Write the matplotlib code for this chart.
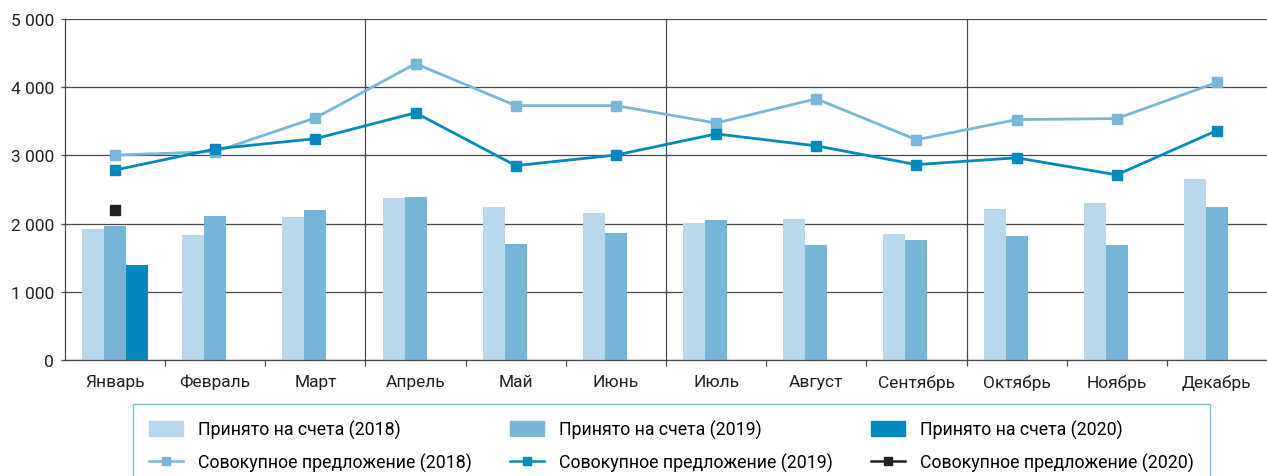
import matplotlib.pyplot as plt
import matplotlib.ticker as mticker
from matplotlib.patches import Patch
from matplotlib.lines import Line2D
import numpy as np

meses = ["Январь", "Февраль", "Март", "Апрель", "Май", "Июнь",
         "Июль", "Август", "Сентябрь", "Октябрь", "Ноябрь", "Декабрь"]

accepted_2018 = [1920, 1830, 2095, 2375, 2245, 2155, 2005, 2065, 1845, 2215, 2300, 2655]
accepted_2019 = [1965, 2110, 2200, 2390, 1700, 1860, 2050, 1685, 1760, 1815, 1685, 2245]
accepted_2020 = [1390]

offer_2018 = [3005, 3055, 3550, 4345, 3730, 3730, 3475, 3830, 3230, 3525, 3540, 4070]
offer_2019 = [2785, 3095, 3245, 3625, 2850, 3005, 3315, 3140, 2865, 2965, 2715, 3365]
offer_2020 = [2205]

c_2018_bar = "#b8d7ea"
c_2019_bar = "#78b4d6"
c_2020_bar = "#0089bc"
c_2018_line = "#7ab6d8"
c_2019_line = "#0089bd"
c_2020_line = "#222222"
grid_c = "#4a4a4a"

plt.rcParams['font.family'] = ['Roboto', 'DejaVu Sans']

fig = plt.figure(figsize=(12.67, 4.77), dpi=100)
ax = fig.add_axes([65 / 1267, 1 - 361 / 477, 1 - 65 / 1267, (361 - 20) / 477])

x = np.arange(len(meses))
w = 0.22
ax.bar(x - w, accepted_2018, w, color=c_2018_bar, zorder=2)
ax.bar(x, accepted_2019, w, color=c_2019_bar, zorder=2)
ax.bar(x[:len(accepted_2020)] + w, accepted_2020, w, color=c_2020_bar, zorder=2)

ax.plot(x, offer_2018, color=c_2018_line, lw=2, marker="s", ms=6.5, zorder=3)
ax.plot(x, offer_2019, color=c_2019_line, lw=2, marker="s", ms=6.5, zorder=4)
ax.plot(x[:len(offer_2020)], offer_2020, color=c_2020_line, lw=2, marker="s",
        ms=6.5, ls="none", zorder=4)

ax.set_xlim(-0.5, 11.5)
ax.set_ylim(0, 5000)
ax.set_yticks(range(0, 5001, 1000))
ax.yaxis.set_major_formatter(mticker.FuncFormatter(lambda v, p: f"{int(v):,}".replace(",", " ")))
ax.yaxis.grid(True, color=grid_c, lw=0.9, zorder=1)
for b in [2.5, 5.5, 8.5]:
    ax.axvline(b, color=grid_c, lw=0.9, zorder=1)

ax.set_xticks(x)
ax.set_xticklabels(meses)
ax.set_xticks(np.arange(0.5, 11.5, 1), minor=True)
ax.tick_params(axis="x", which="major", length=0, pad=10, labelsize=12.5, colors="#222222")
ax.tick_params(axis="x", which="minor", length=4, width=0.9, color=grid_c)
ax.tick_params(axis="y", length=3, width=0.9, color=grid_c, pad=5, labelsize=12.5,
               labelcolor="#222222")

for s in ["top", "right"]:
    ax.spines[s].set_visible(False)
for s in ["left", "bottom"]:
    ax.spines[s].set_color(grid_c)
    ax.spines[s].set_linewidth(0.9)

handles = [
    Patch(color=c_2018_bar, label="Принято на счета (2018)"),
    Line2D([], [], color=c_2018_line, lw=1.8, marker="s", ms=5.5, label="Совокупное предложение (2018)"),
    Patch(color=c_2019_bar, label="Принято на счета (2019)"),
    Line2D([], [], color=c_2019_line, lw=1.8, marker="s", ms=5.5, label="Совокупное предложение (2019)"),
    Patch(color=c_2020_bar, label="Принято на счета (2020)"),
    Line2D([], [], color=c_2020_line, lw=1.8, marker="s", ms=5.5, label="Совокупное предложение (2020)"),
]
leg = fig.legend(handles=handles, ncol=3, loc="upper left",
                 bbox_to_anchor=(133 / 1267, 1 - 405 / 477, (1210 - 133) / 1267, 0),
                 mode="expand", frameon=True, fancybox=False,
                 prop={"family": ["Roboto", "DejaVu Sans"], "size": 12.8},
                 handlelength=1.9, handleheight=0.9, handletextpad=0.85,
                 labelspacing=0.75, borderpad=0.9, borderaxespad=0)
leg.get_frame().set_edgecolor("#5aaed8")
leg.get_frame().set_linewidth(1.0)

fig.savefig("out.png", dpi=100)
